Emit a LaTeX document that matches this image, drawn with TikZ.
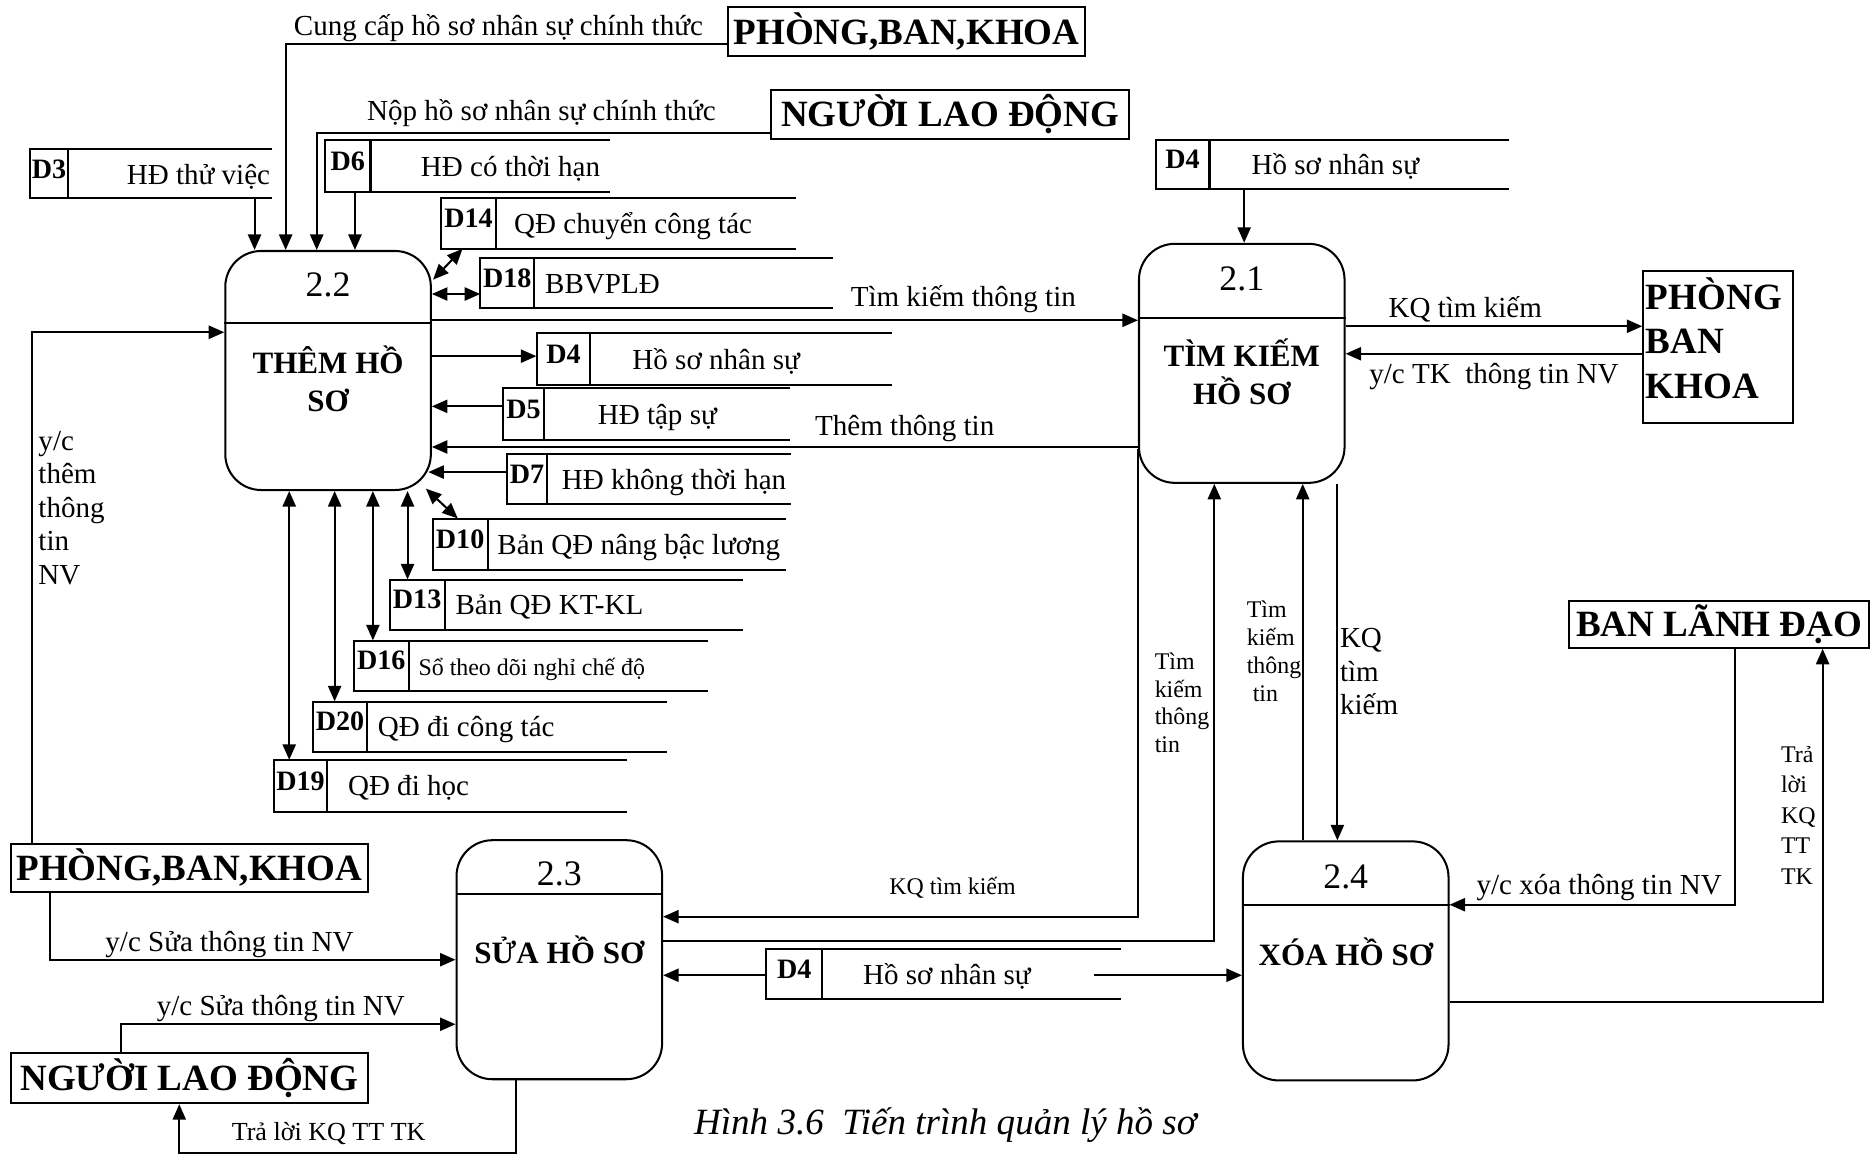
\documentclass[tikz,border=0pt]{standalone}
\usepackage{fontspec}
\setmainfont{Liberation Serif}
\usetikzlibrary{arrows.meta,calc}
\newcommand\mylbl{\fontsize{24.3}{28}\selectfont}
\newcommand\mysm{\fontsize{20}{23.3}\selectfont}
\newcommand\mysmb{\fontsize{20}{25.5}\selectfont}
\newcommand\mysmc{\fontsize{21.8}{25}\selectfont}
\newcommand\myent{\fontsize{31}{37}\selectfont\bfseries}
\newcommand\myproc{\fontsize{26}{32}\selectfont\bfseries}
\newcommand\mynum{\fontsize{30}{34}\selectfont}
\newcommand\myid{\fontsize{23.5}{26}\selectfont\bfseries}
\newcommand\mycap{\fontsize{31}{34}\selectfont\itshape}
\tikzset{
  x=1pt, y=-1pt,
  ln/.style={line width=1.7pt},
  tip/.tip={Triangle[length=13pt,width=11pt]},
  arr/.style={ln, -tip},
  darr/.style={ln, tip-tip},
  proc/.style={draw, ln, rounded corners=30pt, inner sep=0pt, minimum width=172pt, minimum height=200pt},
  ent/.style={draw, ln, inner sep=0pt, font=\myent},
  lbl/.style={inner sep=0pt, font=\mylbl, text height=0.7em, text depth=0.2em, yshift=-5pt},
  mlbl/.style={inner sep=0pt, font=\mylbl, align=left},
  slbl/.style={inner sep=0pt, font=\mysm, text height=0.7em, text depth=0.2em, yshift=-5pt},
  mslbl/.style={inner sep=0pt, font=\mysm, align=left},
  numt/.style={inner sep=0pt, font=\mynum, text height=0.7em, text depth=0.2em, yshift=-7.5pt},
  proct/.style={inner sep=0pt, font=\myproc, align=center},
  idt/.style={inner sep=0pt, font=\myid, text height=0.7em, text depth=0.2em, yshift=-1pt},
  stx/.style={inner sep=0pt, font=\mylbl, text height=0.7em, text depth=0.2em, yshift=-5pt},
}
% name, x1, x2, ytop, ybot, divider x, id, text x, text
\newcommand\dstore[9]{%
  \node[inner sep=0pt, minimum width={(#3)-(#2)}, minimum height={(#5)-(#4)}] (#1) at ({((#2)+(#3))/2},{((#4)+(#5))/2}) {};
  \draw[ln] (#3,#4) -- (#2,#4) -- (#2,#5) -- (#3,#5);
  \draw[ln] (#6,#4) -- (#6,#5);
  \node[idt] (#1id) at ({((#2)+(#6))/2},{((#4)+(#5))/2}) {D#7};
  \node[stx, anchor=west] (#1tx) at (#8,{((#4)+(#5))/2+1}) {#9};
}
\begin{document}
\begin{tikzpicture}
\useasboundingbox (0,0) rectangle (1568,966);

% ---------- processes ----------
\node[proc] (p22) at (274.5,310) {};
\draw[ln] (p22.west |- 0,270) -- (p22.east |- 0,270);
\node[numt] (p22n) at (274.5,238) {2.2};
\node[proct] (p22t) at (274.5,317) {THÊM HỒ\\SƠ};

\node[proc] (p21) at (1039,304) {};
\draw[ln] (p21.west |- 0,266) -- (p21.east |- 0,266);
\node[numt] (p21n) at (1039,233) {2.1};
\node[proct] (p21t) at (1039,311) {TÌM KIẾM\\HỒ SƠ};

\node[proc] (p23) at (468,803) {};
\draw[ln] (p23.west |- 0,748) -- (p23.east |- 0,748);
\node[numt] (p23n) at (468,731) {2.3};
\node[proct] (p23t) at (468,795) {SỬA HỒ SƠ};

\node[proc] (p24) at (1126,804) {};
\draw[ln] (p24.west |- 0,757) -- (p24.east |- 0,757);
\node[numt] (p24n) at (1126,733) {2.4};
\node[proct] (p24t) at (1126,796) {XÓA HỒ SƠ};

% ---------- external entities ----------
\node[ent, minimum width=299pt, minimum height=41pt] (pbk1) at (758.5,26.5) {PHÒNG,BAN,KHOA};
\node[ent, minimum width=300pt, minimum height=41pt] (nld1) at (795,95.5) {NGƯỜI LAO ĐỘNG};
\node[draw, ln, inner sep=0pt, minimum width=125pt, minimum height=127pt] (pbk3) at (1437.5,290.5) {};
\node[inner sep=0pt, font=\myent, align=left, anchor=west] (pbk3t) at (1377,283) {PHÒNG\\BAN\\KHOA};
\node[ent, minimum width=251pt, minimum height=39pt] (bld) at (1438.5,522.5) {BAN LÃNH ĐẠO};
\node[ent, minimum width=299pt, minimum height=40pt] (pbk2) at (158.5,726) {PHÒNG,BAN,KHOA};
\node[ent, minimum width=299pt, minimum height=42pt] (nld2) at (158.5,902) {NGƯỜI LAO ĐỘNG};

% ---------- data stores ----------
\dstore{d3}{25}{228}{125}{166}{57}{3}{106}{HĐ thử việc}
\dstore{d6}{272}{510}{117}{161}{310}{6}{352}{HĐ có thời hạn}
\dstore{d14}{369}{666}{166}{208}{415}{14}{430}{QĐ chuyển công tác}
\dstore{d18}{402}{697}{216}{258}{447}{18}{456}{BBVPLĐ}
\dstore{d4a}{449}{746}{279}{322}{494}{4}{529}{Hồ sơ nhân sự}
\dstore{d5}{421}{661}{325}{368}{455}{5}{500}{HĐ tập sự}
\dstore{d7}{424}{662}{380}{422}{458}{7}{470}{HĐ không thời hạn}
\dstore{d10}{362}{658}{434}{477}{408}{10}{416}{Bản QĐ nâng bậc lương}
\dstore{d13}{326}{622}{485}{527}{372}{13}{381}{Bản QĐ KT-KL}
\dstore{d16}{296}{592}{536}{578}{342}{16}{350}{\mysm Sổ theo dõi nghỉ chế độ}
\dstore{d20}{262}{558}{587}{629}{307}{20}{316}{QĐ đi công tác}
\dstore{d19}{229}{525}{636}{679}{274}{19}{291}{QĐ đi học}
\dstore{d4b}{967}{1263}{117}{158}{1012}{4}{1047}{Hồ sơ nhân sự}
\dstore{d4c}{641}{938}{794}{836}{688}{4}{722}{Hồ sơ nhân sự}

% ---------- connectors around 2.2 ----------
\draw[arr] (pbk1.west |- 0,37) -| (p22.north -| 239,0);
\node[lbl] (lcung) at (417,22) {Cung cấp hồ sơ nhân sự chính thức};
\draw[arr] (nld1.west |- 0,111) -| (p22.north -| 265,0);
\node[lbl] (lnop) at (453,93) {Nộp hồ sơ nhân sự chính thức};
\draw[arr] (d3.south -| 213,0) -- (p22.north -| 213,0);
\draw[arr] (d6.south -| 297,0) -- (p22.north -| 297,0);
\draw[darr] (d14.south west -| 387,0) -- ($(p22.east |- 0,234)+(1,0)$);
\draw[darr] (p22.east |- 0,246) -- (d18.west |- 0,246);
\draw[arr] (p22.east |- 0,268) -- (p21.west |- 0,268);
\node[lbl] (ltk1) at (806,249) {Tìm kiếm thông tin};
\draw[arr] (p22.east |- 0,298) -- (d4a.west |- 0,298);
\draw[arr] (d5.west |- 0,340) -- (p22.east |- 0,340);
\draw[arr] (p21.west |- 0,374) -- (p22.east |- 0,374);
\node[lbl] (lthem) at (757,357) {Thêm thông tin};
\draw[arr] (d7.west |- 0,395) -- ($(p22.east |- 0,395)+(-3,0)$);
\draw[darr] ($(p22.south east)+(-5,-2)$) -- (d10.north west -| 383,0);
\draw[darr] (p22.south -| 341,0) -- (d13.north -| 341,0);
\draw[darr] (p22.south -| 312,0) -- (d16.north -| 312,0);
\draw[darr] (p22.south -| 280,0) -- (d20.north -| 280,0);
\draw[darr] (p22.south -| 242,0) -- (d19.north -| 242,0);

% ---------- left side ----------
\draw[arr] (pbk2.north -| 27,0) |- (p22.west |- 0,278);
\node[mlbl, anchor=west] (lycthem) at (32,425) {y/c\\thêm\\thông\\tin\\NV};
\draw[arr] (pbk2.south -| 42,0) |- (p23.west |- 0,803);
\node[lbl] (lsua1) at (192,789) {y/c Sửa thông tin NV};
\draw[arr] (nld2.north -| 101,0) |- (p23.west |- 0,857);
\node[lbl] (lsua2) at (235,842) {y/c Sửa thông tin NV};
\draw[arr] (p23.south -| 432,0) -- (432,965) -| (nld2.south -| 150,0);
\node[inner sep=0pt, font=\mysmc, text height=0.7em, text depth=0.2em, yshift=-5pt] (ltl1) at (275,947) {Trả lời KQ TT TK};

% ---------- around 2.1 ----------
\draw[arr] (d4b.south -| 1041,0) -- (p21.north -| 1041,0);
\draw[arr] (p21.east |- 0,273) -- (pbk3.west |- 0,273);
\node[lbl] (lkq1) at (1226,258) {KQ tìm kiếm};
\draw[arr] (pbk3.west |- 0,296) -- (p21.east |- 0,296);
\node[lbl] (lyctk) at (1250,313) {y/c TK\ \ thông tin NV};

\draw[arr] (p21.west |- 0,376) -- (p21.west |- 0,767) -- (p23.east |- 0,767);
\node[slbl] (lkq2) at (797,741) {KQ tìm kiếm};
\node[mslbl, anchor=west] (ltk2) at (966,588) {Tìm\\kiếm\\thông\\tin};
\draw[arr] (p23.east |- 0,787) -| (p21.south -| 1016,0);
\draw[arr] (p24.north -| 1090,0) -- (p21.south -| 1090,0);
\node[mslbl, anchor=west] (ltk3) at (1043,545) {Tìm\\kiếm\\thông\\\hspace*{5pt}tin};
\draw[arr] (p21.south -| 1119,0) -- (p24.north -| 1119,0);
\node[mlbl, anchor=west] (lkq3) at (1121,562) {KQ\\tìm\\kiếm};

% ---------- bottom store and 2.4 ----------
\draw[arr] (d4c.west |- 0,816) -- (p23.east |- 0,816);
\draw[arr] ($(d4c.east |- 0,816)+(-23,0)$) -- (p24.west |- 0,816);
\draw[arr] (bld.south -| 1452,0) |- (p24.east |- 0,757);
\node[lbl] (lxoa) at (1338,741) {y/c xóa thông tin NV};
\draw[arr] (p24.east |- 0,838) -| (bld.south -| 1525,0);
\node[inner sep=0pt, font=\mysmb, align=left, anchor=west] (ltl2) at (1490,682) {Trả\\lời\\KQ\\TT\\TK};

\node[inner sep=0pt, font=\mycap, text height=0.7em, text depth=0.2em, yshift=-5pt] (cap) at (791,942) {Hình 3.6\ \ Tiến trình quản lý hồ sơ};
\end{tikzpicture}
\end{document}
